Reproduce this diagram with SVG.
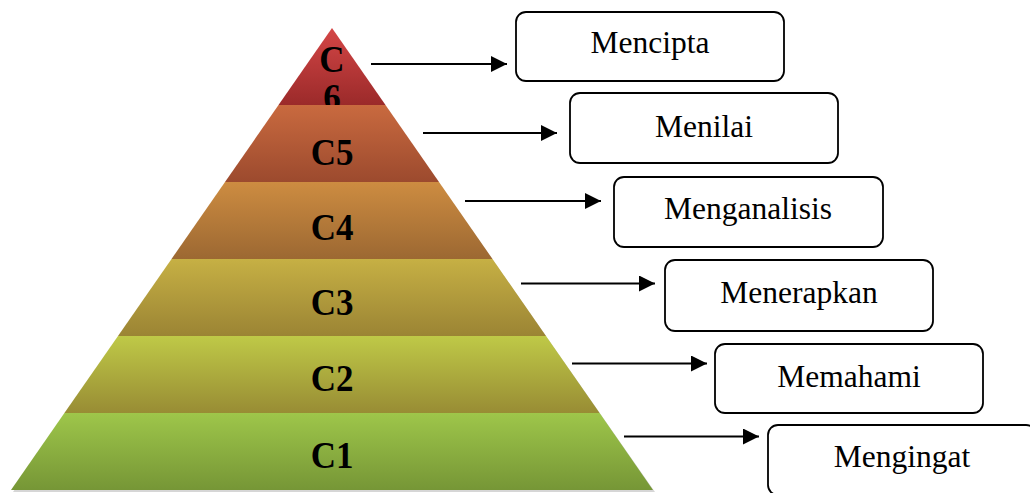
<svg xmlns="http://www.w3.org/2000/svg" width="1030" height="493" viewBox="0 0 1030 493">
<defs>
<style>
.lvl{font-family:"Liberation Serif","Times New Roman",serif;font-weight:bold;font-size:35px;fill:#000;text-anchor:middle}
.box{fill:#fff;stroke:#000;stroke-width:1.8}
.btx{font-family:"Liberation Serif","Times New Roman",serif;font-size:31.5px;fill:#000;text-anchor:middle}
.con{stroke:#000;stroke-width:2;fill:none}
</style>
<linearGradient id="g6" x1="0" y1="0" x2="0" y2="1"><stop offset="0" stop-color="#d44646"/><stop offset="1" stop-color="#9b2a2a"/></linearGradient>
<linearGradient id="g5" x1="0" y1="0" x2="0" y2="1"><stop offset="0" stop-color="#c96a3f"/><stop offset="1" stop-color="#9c4a2e"/></linearGradient>
<linearGradient id="g4" x1="0" y1="0" x2="0" y2="1"><stop offset="0" stop-color="#cd8c41"/><stop offset="1" stop-color="#9c6832"/></linearGradient>
<linearGradient id="g3" x1="0" y1="0" x2="0" y2="1"><stop offset="0" stop-color="#c6b044"/><stop offset="1" stop-color="#9b8434"/></linearGradient>
<linearGradient id="g2" x1="0" y1="0" x2="0" y2="1"><stop offset="0" stop-color="#bfc947"/><stop offset="1" stop-color="#988c34"/></linearGradient>
<linearGradient id="g1" x1="0" y1="0" x2="0" y2="1"><stop offset="0" stop-color="#9ec64a"/><stop offset="1" stop-color="#769636"/></linearGradient>
<marker id="ah" viewBox="0 0 16 16" refX="16" refY="8" markerWidth="16" markerHeight="16" markerUnits="userSpaceOnUse" orient="auto">
<path d="M0,0 L16,8 L0,16 Z" fill="#000"/>
</marker>
<clipPath id="clip6"><polygon points="332,28 385.5,105 278.5,105"/></clipPath>
</defs>
<rect width="1030" height="493" fill="#fff"/>
<polygon points="332,30 655,492 13,492" fill="#d6d6d6"/>
<g id="level-c1"><polygon points="64.4,413 599.6,413 653,490 11,490" fill="url(#g1)"/><text class="lvl" transform="translate(332,467.5) scale(1,1.1)">C1</text></g>
<g id="level-c2"><polygon points="118,336 546,336 599.6,413 64.4,413" fill="url(#g2)"/><text class="lvl" transform="translate(332,390.5) scale(1,1.1)">C2</text></g>
<g id="level-c3"><polygon points="171.5,259 492.5,259 546,336 118,336" fill="url(#g3)"/><text class="lvl" transform="translate(332,315) scale(1,1.1)">C3</text></g>
<g id="level-c4"><polygon points="225,182 439,182 492.5,259 171.5,259" fill="url(#g4)"/><text class="lvl" transform="translate(332,240) scale(1,1.1)">C4</text></g>
<g id="level-c5"><polygon points="278.5,105 385.5,105 439,182 225,182" fill="url(#g5)"/><text class="lvl" transform="translate(332,165) scale(1,1.1)">C5</text></g>
<g id="level-c6"><polygon points="332,28 385.5,105 278.5,105" fill="url(#g6)"/>
<g clip-path="url(#clip6)"><text class="lvl" transform="translate(332,72) scale(1,1.1)"><tspan x="0" y="0">C</tspan><tspan x="0" y="34.5">6</tspan></text></g></g>
<g id="connectors">
<line class="con" x1="371" y1="64" x2="507" y2="64" marker-end="url(#ah)"/>
<line class="con" x1="423" y1="133" x2="557" y2="133" marker-end="url(#ah)"/>
<line class="con" x1="465" y1="201" x2="601" y2="201" marker-end="url(#ah)"/>
<line class="con" x1="521" y1="283.5" x2="655" y2="283.5" marker-end="url(#ah)"/>
<line class="con" x1="572" y1="363.5" x2="707" y2="363.5" marker-end="url(#ah)"/>
<line class="con" x1="624" y1="436.5" x2="759" y2="436.5" marker-end="url(#ah)"/>
</g>
<g id="box-mencipta"><rect class="box" x="516" y="12" width="268" height="69" rx="10"/><text class="btx" x="650" y="53">Mencipta</text></g>
<g id="box-menilai"><rect class="box" x="570" y="93" width="268" height="70" rx="10"/><text class="btx" x="704" y="137">Menilai</text></g>
<g id="box-menganalisis"><rect class="box" x="614" y="177" width="269" height="70" rx="10"/><text class="btx" x="748" y="219">Menganalisis</text></g>
<g id="box-menerapkan"><rect class="box" x="665" y="260" width="268" height="71" rx="10"/><text class="btx" x="799" y="303">Menerapkan</text></g>
<g id="box-memahami"><rect class="box" x="715" y="344" width="268" height="69" rx="10"/><text class="btx" x="849" y="387">Memahami</text></g>
<g id="box-mengingat"><rect class="box" x="768" y="425" width="268" height="70" rx="10"/><text class="btx" x="902" y="467">Mengingat</text></g>
</svg>
